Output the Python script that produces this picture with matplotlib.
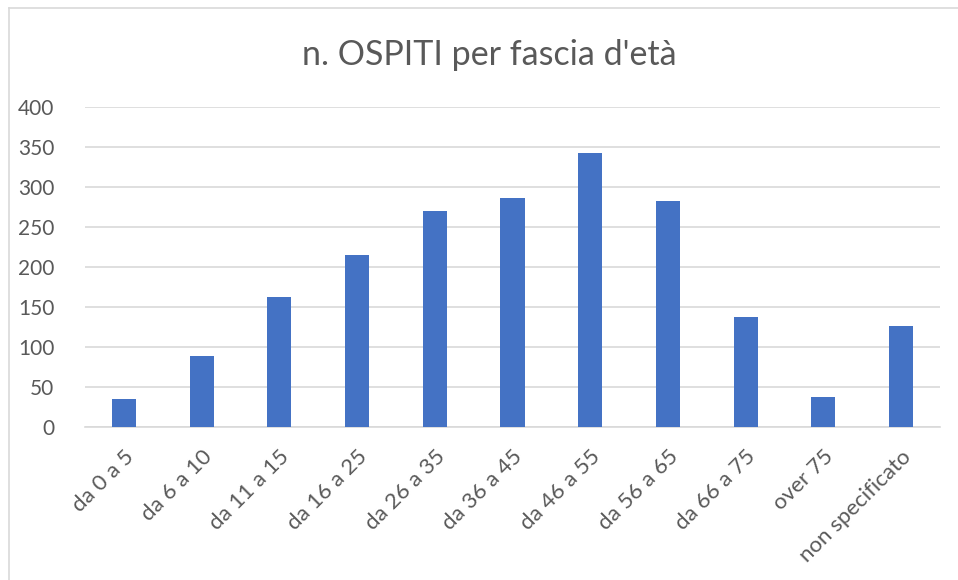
import matplotlib.pyplot as plt

# Dati
fasce = ["da 0 a 5", "da 6 a 10", "da 11 a 15", "da 16 a 25", "da 26 a 35",
         "da 36 a 45", "da 46 a 55", "da 56 a 65", "da 66 a 75", "over 75",
         "non specificato"]
ospiti = [35, 89, 163, 215, 270, 286, 343, 282, 138, 37, 126]
y_ticks = [0, 50, 100, 150, 200, 250, 300, 350, 400]

plt.rcParams['font.family'] = ['Lato', 'DejaVu Sans']

grigio = "#595959"

fig = plt.figure(figsize=(9.58, 5.8), dpi=100)
ax = fig.add_axes([85 / 958, 1 - 427 / 580, (940 - 85) / 958, (427 - 107) / 580])

ax.bar(range(len(fasce)), ospiti, width=0.31, color="#4472C4", zorder=3)

ax.set_xlim(-0.5, len(fasce) - 0.5)
ax.set_ylim(0, 400)
ax.set_yticks(y_ticks)
ax.grid(axis="y", color="#D9D9D9", linewidth=1.2, zorder=0)

for s in ["top", "right", "left"]:
    ax.spines[s].set_visible(False)
ax.spines["bottom"].set_color("#D9D9D9")
ax.spines["bottom"].set_linewidth(1.2)

ax.set_xticks(range(len(fasce)))
ax.set_xticklabels(fasce, rotation=45, ha="right", rotation_mode="anchor")
ax.tick_params(axis="both", length=0, labelcolor=grigio)
ax.tick_params(axis="y", pad=22, labelsize=15)
ax.tick_params(axis="x", pad=14, labelsize=16)

fig.text(489 / 958, 1 - 55 / 580, "n. OSPITI per fascia d'età", ha="center", va="center",
         fontsize=24.5, color=grigio)

# bordo del grafico (in alto e a sinistra)
fig.add_artist(plt.Line2D([9 / 958, 9 / 958], [0, 1 - 8 / 580], color="#D9D9D9", linewidth=1.2))
fig.add_artist(plt.Line2D([9 / 958, 1], [1 - 8 / 580, 1 - 8 / 580], color="#D9D9D9", linewidth=1.2))

plt.savefig("out.png")
